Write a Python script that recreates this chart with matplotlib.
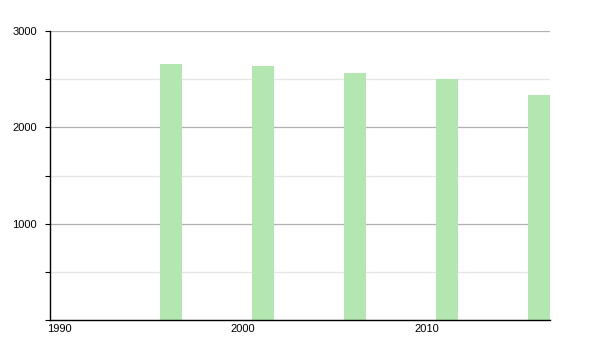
import matplotlib
matplotlib.use("Agg")
import matplotlib.pyplot as plt
from matplotlib.ticker import MultipleLocator

years = [1996, 2001, 2006, 2011, 2016]
values = [2657, 2636, 2561, 2502, 2336]
xticks = [1990, 2000, 2010]
yticks = [1000, 2000, 3000]

plt.rcParams['font.family'] = ['Liberation Sans', 'DejaVu Sans']
fig = plt.figure(figsize=(6, 3.5), dpi=100)
ax = fig.add_axes([50/600, 30/350, 500/600, 289/350])

ax.bar(years, values, width=1.15, align='edge', color='#b3e6b0', zorder=2)

ax.set_xlim(1990, 2017.17)
ax.set_ylim(0, 3000)
ax.set_yticks(yticks)
ax.yaxis.set_minor_locator(MultipleLocator(500))
# year labels are centred on the middle of each year
ax.set_xticks([x + 0.5 for x in xticks])
ax.set_xticklabels([str(x) for x in xticks], ha='center')

ax.grid(axis='y', which='major', color='#b0b0b0', linewidth=0.9, zorder=1)
ax.grid(axis='y', which='minor', color='#e6e6e6', linewidth=0.9, zorder=1)

for s in ['top', 'right']:
    ax.spines[s].set_visible(False)
ax.spines['left'].set_color('black')
ax.spines['bottom'].set_color('black')
ax.spines['left'].set_linewidth(1)
ax.spines['bottom'].set_linewidth(1)

ax.tick_params(axis='y', which='both', direction='out', length=3.6, width=0.8, labelsize=8, pad=5.7)
ax.tick_params(axis='x', length=0, labelsize=8, pad=3)

fig.savefig('out.png', dpi=100, facecolor='white')
